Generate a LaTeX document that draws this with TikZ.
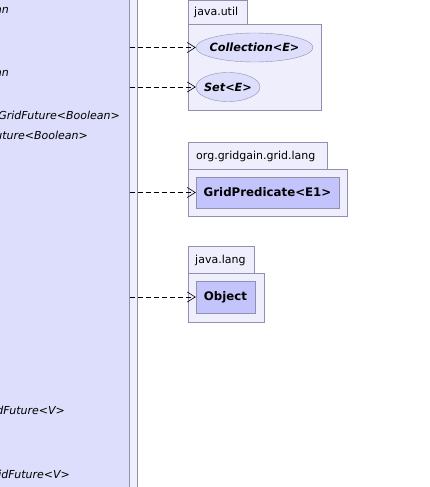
\documentclass[tikz,border=0pt]{standalone}
\usepackage{fontspec}
\setmainfont{DejaVu Sans}
\usetikzlibrary{arrows.meta,shapes.geometric}
\definecolor{clsfill}{RGB}{221,221,252}
\definecolor{pkgfill}{RGB}{238,238,252}
\definecolor{boxfill}{RGB}{196,196,252}
\definecolor{edge}{RGB}{145,145,175}
\tikzset{
  pkgtab/.style={draw=edge, fill=pkgfill, anchor=north west, inner sep=0pt},
  tablabel/.style={anchor=west, inner sep=0pt, font=\fontsize{11}{13}\selectfont},
  pkgbody/.style={draw=edge, fill=pkgfill, anchor=north west, inner sep=0pt},
  ifc/.style={ellipse, draw=edge, fill=clsfill, inner xsep=-14pt, inner ysep=0pt, font=\fontsize{11.3}{13}\selectfont\bfseries\itshape},
  cbox/.style={draw=edge, fill=boxfill, inner sep=0pt, font=\fontsize{11.8}{13}\selectfont\bfseries},
  member/.style={anchor=base east, inner sep=0pt, font=\fontsize{11}{13}\selectfont\itshape},
  dep/.style={dash pattern=on 5pt off 3pt, -{Straight Barb[length=8pt,width=10pt]}, black, line width=0.6pt}
}
\begin{document}
\begin{tikzpicture}[x=1pt,y=-1pt]
\useasboundingbox (0,0) rectangle (429,487);
\clip (0,0) rectangle (429,487);
% left package strip and class box
\node[draw=edge, fill=pkgfill, anchor=north east, minimum width=160pt, minimum height=520pt, inner sep=0pt, line width=0.8pt] (pkgl) at (138,-10) {};
\node[draw=edge, fill=clsfill, anchor=north east, minimum width=150pt, minimum height=520pt, inner sep=0pt, line width=0.8pt] (cls) at (130,-10) {};
% members (cut off at the left edge)
\node[member] (m1) at (9,14) {Boolean};
\node[member] (m2) at (9,76) {Boolean};
\node[member] (m3) at (120,119) {GridFuture<Boolean>};
\node[member] (m4) at (88,139) {GridFuture<Boolean>};
\node[member] (m5) at (65,414) {GridFuture<V>};
\node[member] (m6) at (70,478) {GridFuture<V>};
% java.util
\node[pkgtab, minimum width=59pt, minimum height=24pt] (t1) at (188,0.5) {};
\node[tablabel] (t1l) at (194,12) {java.util};
\node[pkgbody, minimum width=133pt, minimum height=86pt] (p1) at (188,24) {};
\node[ifc, minimum width=117pt, minimum height=29pt] (coll) at (254.5,47.5) {Collection<E>};
\node[ifc, minimum width=64pt, minimum height=29pt] (set) at (228,87) {Set<E>};
% org.gridgain.grid.lang
\node[pkgtab, minimum width=139pt, minimum height=27pt] (t2) at (188,142) {};
\node[tablabel] (t2l) at (196,156) {org.gridgain.grid.lang};
\node[pkgbody, minimum width=159pt, minimum height=47pt] (p2) at (188,169) {};
\node[cbox, minimum width=143pt, minimum height=31pt] (gp) at (267.5,192.5) {GridPredicate<E1>};
% java.lang
\node[pkgtab, minimum width=66pt, minimum height=27pt] (t3) at (188,246) {};
\node[tablabel] (t3l) at (195,260) {java.lang};
\node[pkgbody, minimum width=76pt, minimum height=49pt] (p3) at (188,273) {};
\node[cbox, minimum width=59pt, minimum height=32pt] (obj) at (225.5,297) {Object};
% dependencies
\draw[dep] (cls.east |- coll.west) -- (coll.west);
\draw[dep] (cls.east |- set.west) -- (set.west);
\draw[dep] (cls.east |- gp.west) -- (gp.west);
\draw[dep] (cls.east |- obj.west) -- (obj.west);
\end{tikzpicture}
\end{document}
